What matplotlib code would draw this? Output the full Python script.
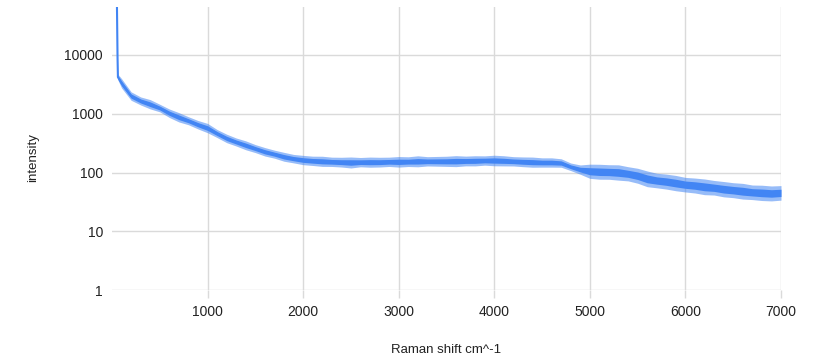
import matplotlib
matplotlib.use("Agg")
import matplotlib.pyplot as plt
import numpy as np

plt.rcParams['font.family'] = ['Liberation Sans', 'DejaVu Sans']

# Raman shift (cm^-1) and intensity
shift = [52, 58, 62, 100, 200, 300, 400, 500, 600, 700, 800, 900, 1000,
         1100, 1200, 1300, 1400, 1500, 1600, 1700, 1800, 1900, 2000,
         2100, 2200, 2300, 2400, 2500, 2600, 2700, 2800, 2900, 3000,
         3100, 3200, 3300, 3400, 3500, 3600, 3700, 3800, 3900, 4000,
         4100, 4200, 4300, 4400, 4500, 4600, 4700, 4800, 4900, 5000,
         5100, 5200, 5300, 5400, 5500, 5600, 5700, 5800, 5900, 6000,
         6100, 6200, 6300, 6400, 6500, 6600, 6700, 6800, 6900, 7000]
intensity = [65000, 9000, 4200, 3300, 2000, 1650, 1450, 1250, 1020, 870, 760, 650, 570,
             460, 380, 330, 290, 255, 225, 205, 185, 172, 163,
             158, 155, 152, 150, 148, 150, 150, 150, 152, 152,
             153, 155, 155, 155, 155, 156, 157, 158, 160, 160,
             158, 155, 152, 150, 148, 148, 145, 125, 112, 105,
             103, 102, 100, 95, 88, 78, 73, 70, 66, 62,
             60, 57, 55, 52, 50, 48, 46, 45, 44, 45]
# noise band (multiplicative spread)
spread = [1.0, 1.0, 1.12, 1.2, 1.18, 1.17, 1.2, 1.16, 1.18, 1.2, 1.17, 1.18, 1.2,
          1.17, 1.18, 1.17, 1.19, 1.17, 1.18, 1.17, 1.19, 1.18, 1.2,
          1.2, 1.22, 1.2, 1.21, 1.24, 1.2, 1.22, 1.21, 1.2, 1.23,
          1.21, 1.24, 1.2, 1.21, 1.22, 1.24, 1.21, 1.22, 1.2, 1.23,
          1.22, 1.2, 1.21, 1.22, 1.2, 1.2, 1.18, 1.16, 1.2, 1.32,
          1.34, 1.33, 1.35, 1.32, 1.34, 1.36, 1.33, 1.34, 1.35, 1.33,
          1.34, 1.36, 1.33, 1.35, 1.34, 1.36, 1.33, 1.35, 1.34, 1.33]

xticks = [1000, 2000, 3000, 4000, 5000, 6000, 7000]
yticks = [1, 10, 100, 1000, 10000]

blue = '#4285F4'
grid = '#dadada'
txt = '#222222'

fig = plt.figure(figsize=(8.15, 3.58), dpi=100)
ax = fig.add_axes([112/815, 1-290/358, (781-112)/815, (290-7)/358])

x = np.array(shift, dtype=float)
y = np.array(intensity, dtype=float)
s = np.array(spread, dtype=float)
ax.fill_between(x, y / s, y * s, color=blue, alpha=0.55, linewidth=0, zorder=3)
ax.fill_between(x, y / np.sqrt(s), y * np.sqrt(s), color=blue, alpha=1.0, linewidth=0, zorder=3)
ax.plot(x, y, color=blue, linewidth=1.5, zorder=4)

ax.set_yscale('log')
ax.set_xlim(0, 7000)
ax.set_ylim(1, 10 ** ((290 - 7) / 58.75))
ax.set_xticks(xticks)
ax.set_xticklabels([str(t) for t in xticks])
ax.set_yticks(yticks)
ax.set_yticklabels([str(t) for t in yticks])
ax.yaxis.set_minor_locator(matplotlib.ticker.NullLocator())
for sp in ax.spines.values():
    sp.set_visible(False)
ax.grid(True, color=grid, linewidth=1.0, zorder=0)
ax.set_axisbelow(True)
ax.tick_params(axis='x', length=5.8, width=1.0, color=grid, pad=5, labelsize=10, labelcolor=txt)
ax.tick_params(axis='y', length=0, pad=6.5, labelsize=10, labelcolor=txt)

fig.text(446/815, 1-350/358, 'Raman shift cm^-1', ha='center', va='center', fontsize=9.5, color=txt)
fig.text(33/815, 1-158/358, 'intensity', ha='center', va='center', rotation=90, fontsize=9.5, color=txt)

fig.savefig('out.png', dpi=100)
